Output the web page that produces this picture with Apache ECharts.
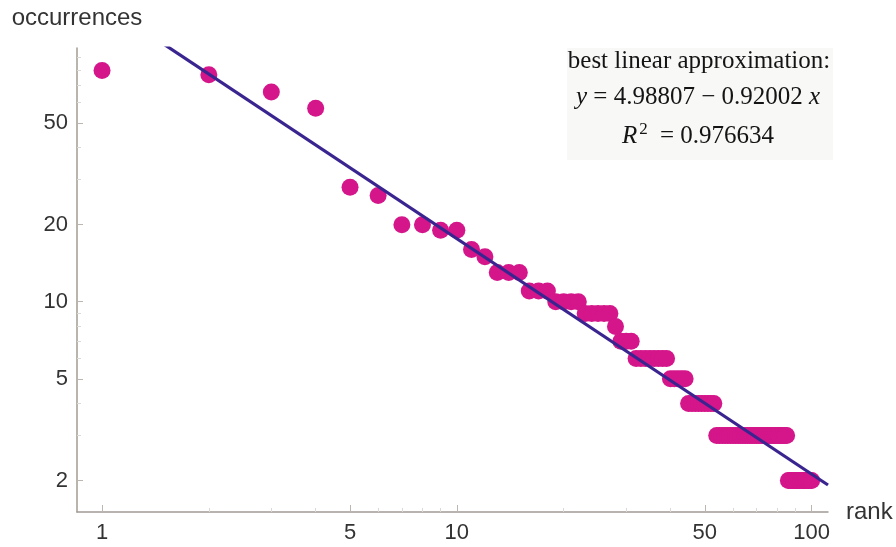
<!DOCTYPE html>
<html>
<head>
<meta charset="utf-8">
<script src="https://cdn.jsdelivr.net/npm/echarts@6/dist/echarts.min.js"></script>
<style>
html,body{margin:0;padding:0;background:#fff;}
#chart{width:896px;height:547px;}
</style>
</head>
<body>
<div id="chart"></div>
<script>
// occurrences by rank (rank = position in list, 1..100)
const occurrences = [
  80, 77, 66, 57, 28, 26, 20, 20, 19, 19,
  16, 15, 13, 13, 13, 11, 11, 11, 10, 10,
  10, 10, 9, 9, 9, 9, 9, 8, 7, 7,
  7, 6, 6, 6, 6, 6, 6, 6, 6, 5,
  5, 5, 5, 5, 4, 4, 4, 4, 4, 4,
  4, 4, 4, 3, 3, 3, 3, 3, 3, 3,
  3, 3, 3, 3, 3, 3, 3, 3, 3, 3,
  3, 3, 3, 3, 3, 3, 3, 3, 3, 3,
  3, 3, 3, 3, 3, 2, 2, 2, 2, 2,
  2, 2, 2, 2, 2, 2, 2, 2, 2, 2
];
// fit: ln(occ) = a - b ln(rank)
const fitCoefficients = [4.98807, 0.92002];
const rSquared = '0.976634';
const xTickLabels = [1, 5, 10, 50, 100];
const xMinorTicks = [2, 3, 4, 6, 7, 8, 9, 20, 30, 40, 60, 70, 80, 90];
const yTickLabels = [2, 5, 10, 20, 50];
const yMinorTicks = [3, 4, 6, 7, 8, 9, 30, 40, 60, 70, 80, 90];

const X_MIN = 0.85, X_MAX = 111.2, Y_MIN = 1.508, Y_MAX = 98;

const points = occurrences.map((v, i) => [i + 1, v]);
const fitLine = [X_MIN, X_MAX].map(x => [x, Math.exp(fitCoefficients[0] - fitCoefficients[1] * Math.log(x))]);

const axisColor = '#a39b95';
const textColor = '#333';
const labelFont = 'Liberation Sans';
const boxFont = 'Liberation Serif';

const chart = echarts.init(document.getElementById('chart'));
chart.setOption({
  animation: false,
  backgroundColor: '#fff',
  grid: { left: 77, right: 68, top: 48, bottom: 35, containLabel: false },
  xAxis: [{
    type: 'log', logBase: 10, min: X_MIN, max: X_MAX,
    position: 'bottom',
    name: 'rank', nameLocation: 'end', nameGap: 18,
    nameTextStyle: { fontFamily: labelFont, fontSize: 24, color: textColor, verticalAlign: 'middle' },
    axisLine: { show: true, lineStyle: { color: axisColor, width: 1.5 } },
    axisTick: { show: true, inside: true, length: 7, customValues: xTickLabels, lineStyle: { color: '#bdb6b0', width: 1 } },
    axisLabel: { customValues: xTickLabels, fontFamily: labelFont, fontSize: 22, color: textColor, margin: 10 },
    splitLine: { show: false }, minorTick: { show: false }
  }, {
    type: 'log', logBase: 10, min: X_MIN, max: X_MAX,
    position: 'bottom', offset: 0,
    axisLine: { show: false },
    axisTick: { show: true, inside: true, length: 4, customValues: xMinorTicks, lineStyle: { color: '#dcd8d4', width: 1 } },
    axisLabel: { show: false },
    splitLine: { show: false }
  }],
  yAxis: [{
    type: 'log', logBase: 10, min: Y_MIN, max: Y_MAX,
    position: 'left',
    name: 'occurrences', nameLocation: 'end', nameGap: 18,
    nameTextStyle: { fontFamily: labelFont, fontSize: 24, color: textColor, align: 'center' },
    axisLine: { show: true, lineStyle: { color: axisColor, width: 1.5 } },
    axisTick: { show: true, inside: true, length: 6, customValues: yTickLabels, lineStyle: { color: '#bdb6b0', width: 1 } },
    axisLabel: { customValues: yTickLabels, fontFamily: labelFont, fontSize: 22, color: textColor, margin: 9 },
    splitLine: { show: false }
  }, {
    type: 'log', logBase: 10, min: Y_MIN, max: Y_MAX,
    position: 'left', offset: 0,
    axisLine: { show: false },
    axisTick: { show: true, inside: true, length: 4, customValues: yMinorTicks, lineStyle: { color: '#dcd8d4', width: 1 } },
    axisLabel: { show: false },
    splitLine: { show: false }
  }],
  series: [{
    type: 'scatter',
    data: points,
    symbol: 'circle', symbolSize: 17,
    itemStyle: { color: '#d4168a', opacity: 1 },
    z: 2
  }, {
    type: 'line',
    data: fitLine,
    showSymbol: false, symbol: 'none',
    clip: true,
    lineStyle: { color: '#3a2590', width: 3.2 },
    z: 3
  }],
  graphic: [{
    type: 'rect', z: 0,
    shape: { x: 567, y: 48, width: 266, height: 112 },
    style: { fill: '#f8f8f7' }
  }, {
    type: 'text', z: 10, x: 699, y: 61,
    style: { text: 'best linear approximation:', fontFamily: boxFont, fontSize: 25, fill: '#141414', align: 'center', verticalAlign: 'middle' }
  }, {
    type: 'text', z: 10, x: 698, y: 97,
    style: {
      text: '{i|y} = ' + fitCoefficients[0] + ' \u2212 ' + fitCoefficients[1] + ' {i|x}',
      fontFamily: boxFont, fontSize: 25, fill: '#141414', align: 'center', verticalAlign: 'middle',
      rich: { i: { fontFamily: boxFont, fontSize: 25, fontStyle: 'italic', fill: '#141414' } }
    }
  }, {
    type: 'text', z: 10, x: 698, y: 136,
    style: {
      text: '{i|R}{sup|2} = ' + rSquared,
      fontFamily: boxFont, fontSize: 25, fill: '#141414', align: 'center', verticalAlign: 'middle',
      rich: {
        i: { fontFamily: boxFont, fontSize: 25, fontStyle: 'italic', fill: '#141414', lineHeight: 30 },
        sup: { fontFamily: boxFont, fontSize: 17, fill: '#141414', verticalAlign: 'top', lineHeight: 30, padding: [0, 6, 11, 2] }
      }
    }
  }]
});
</script>
</body>
</html>
